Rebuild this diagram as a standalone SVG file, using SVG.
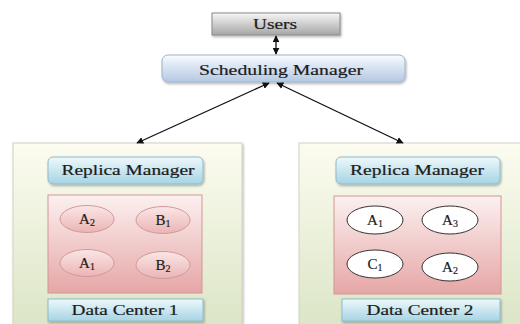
<svg xmlns="http://www.w3.org/2000/svg" width="520" height="324" viewBox="0 0 520 324">
<defs>
<linearGradient id="gUsers" x1="0" y1="0" x2="0" y2="1"><stop offset="0" stop-color="#f6f6f6"/><stop offset="1" stop-color="#a6a6a6"/></linearGradient>
<linearGradient id="gSched" x1="0" y1="0" x2="0" y2="1"><stop offset="0" stop-color="#fbfcfe"/><stop offset="0.25" stop-color="#e6eef8"/><stop offset="1" stop-color="#b4c8e2"/></linearGradient>
<linearGradient id="gDC" x1="0" y1="0" x2="0" y2="1"><stop offset="0" stop-color="#fcfcf0"/><stop offset="1" stop-color="#dbe5c6"/></linearGradient>
<linearGradient id="gBlue" x1="0" y1="0" x2="0" y2="1"><stop offset="0" stop-color="#eef8fb"/><stop offset="1" stop-color="#a6d4e4"/></linearGradient>
<linearGradient id="gPink" x1="0" y1="0" x2="0" y2="1"><stop offset="0" stop-color="#fcf0f0"/><stop offset="1" stop-color="#e6a6a6"/></linearGradient>
<linearGradient id="gPinkC" x1="0" y1="0" x2="0" y2="1"><stop offset="0" stop-color="#fbe6e6"/><stop offset="1" stop-color="#ebb4b4"/></linearGradient>
<marker id="ah" viewBox="0 0 10 10" refX="9" refY="5" markerWidth="7" markerHeight="7" orient="auto-start-reverse" markerUnits="userSpaceOnUse"><path d="M0,0 L10,5 L0,10 z" fill="#111"/></marker>
<filter id="sh" x="-10%" y="-20%" width="130%" height="160%"><feDropShadow dx="1" dy="1.5" stdDeviation="1" flood-color="#000" flood-opacity="0.3"/></filter>
</defs>
<style>
text{font-family:"Liberation Serif","Times New Roman",serif;fill:#1c1c1c;stroke:#1c1c1c;stroke-width:0.2;text-anchor:middle}
.lbl{font-size:14px}
.big{font-size:15px}
.cn{font-size:15px}
.sub{font-size:10px}
.blue{fill:url(#gBlue);stroke:#8bbccc;stroke-width:1}
.pink{fill:url(#gPink);stroke:#d29696;stroke-width:1}
.pc{fill:url(#gPinkC);stroke:#cf9a9a;stroke-width:1}
.wc{fill:#fff;stroke:#333;stroke-width:1}
.dc{fill:url(#gDC);stroke:#cfd2bf;stroke-width:1}
.conn{stroke:#111;stroke-width:1.3;fill:none;marker-start:url(#ah);marker-end:url(#ah)}
</style>

<g id="users">
<rect x="212" y="13" width="128" height="22" fill="url(#gUsers)" stroke="#8a8a8a" filter="url(#sh)"/>
<text class="lbl" x="275" y="29" textLength="44" lengthAdjust="spacingAndGlyphs">Users</text>
</g>

<g id="scheduling-manager">
<rect x="162" y="55" width="243" height="27" rx="6" fill="url(#gSched)" stroke="#9fb3cc" filter="url(#sh)"/>
<text class="big" x="281" y="75" textLength="164" lengthAdjust="spacingAndGlyphs">Scheduling Manager</text>
</g>

<g id="dc1">
<rect class="dc" x="13" y="143" width="229" height="185" filter="url(#sh)"/>
<g id="rm1">
<rect class="blue" x="48" y="157" width="155" height="27" rx="5" filter="url(#sh)"/>
<text class="lbl" x="128" y="175" textLength="133" lengthAdjust="spacingAndGlyphs">Replica Manager</text>
</g>
<rect class="pink" x="48" y="195" width="154" height="98"/>
<g id="dc1-a2"><ellipse class="pc" cx="87" cy="219" rx="27" ry="13.5"/><text class="cn" x="87" y="224">A<tspan class="sub" dy="2">2</tspan></text></g>
<g id="dc1-b1"><ellipse class="pc" cx="163" cy="220" rx="27" ry="13.5"/><text class="cn" x="163" y="225">B<tspan class="sub" dy="2">1</tspan></text></g>
<g id="dc1-a1"><ellipse class="pc" cx="87" cy="263" rx="27" ry="13.5"/><text class="cn" x="87" y="268">A<tspan class="sub" dy="2">1</tspan></text></g>
<g id="dc1-b2"><ellipse class="pc" cx="163" cy="265" rx="27" ry="13.5"/><text class="cn" x="163" y="270">B<tspan class="sub" dy="2">2</tspan></text></g>
<g id="dc1-label">
<rect class="blue" x="48" y="299" width="155" height="22" filter="url(#sh)"/>
<text class="lbl" x="125" y="315" textLength="107" lengthAdjust="spacingAndGlyphs">Data Center 1</text>
</g>
</g>

<g id="dc2">
<rect class="dc" x="299" y="143" width="225" height="185"/>
<g id="rm2">
<rect class="blue" x="336" y="157" width="164" height="27" rx="5" filter="url(#sh)"/>
<text class="lbl" x="417" y="175" textLength="134" lengthAdjust="spacingAndGlyphs">Replica Manager</text>
</g>
<rect class="pink" x="334" y="196" width="167" height="98"/>
<g id="dc2-a1"><ellipse class="wc" cx="375" cy="220" rx="28" ry="14"/><text class="cn" x="375" y="225">A<tspan class="sub" dy="2">1</tspan></text></g>
<g id="dc2-a3"><ellipse class="wc" cx="450" cy="220" rx="28" ry="14"/><text class="cn" x="450" y="225">A<tspan class="sub" dy="2">3</tspan></text></g>
<g id="dc2-c1"><ellipse class="wc" cx="375" cy="264" rx="28" ry="14"/><text class="cn" x="375" y="269">C<tspan class="sub" dy="2">1</tspan></text></g>
<g id="dc2-a2"><ellipse class="wc" cx="450" cy="267" rx="28" ry="14"/><text class="cn" x="450" y="272">A<tspan class="sub" dy="2">2</tspan></text></g>
<g id="dc2-label">
<rect class="blue" x="342" y="299" width="158" height="22" filter="url(#sh)"/>
<text class="lbl" x="420" y="315" textLength="107" lengthAdjust="spacingAndGlyphs">Data Center 2</text>
</g>
</g>

<g id="connectors">
<line class="conn" x1="276" y1="36" x2="276" y2="54"/>
<line class="conn" x1="137" y1="143" x2="269" y2="83"/>
<line class="conn" x1="403" y1="143" x2="277" y2="83"/>
</g>
</svg>
